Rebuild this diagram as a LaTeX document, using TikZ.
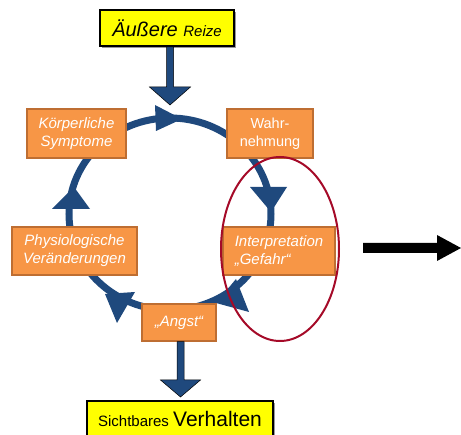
\documentclass[tikz,border=0pt]{standalone}
\usepackage{fontspec}
\setmainfont{Liberation Sans}
\usetikzlibrary{calc,shadows}
\definecolor{cblue}{RGB}{31,73,125}
\definecolor{corange}{RGB}{247,150,70}
\definecolor{cborder}{RGB}{190,110,50}
\definecolor{cred}{RGB}{165,10,40}
\definecolor{cyellow}{RGB}{255,255,0}
\begin{document}
\begin{tikzpicture}[x=1pt,y=-1pt,
  obox/.style={draw=cborder, line width=1.5pt, fill=corange, text=white, align=center, inner sep=0pt,
    font=\fontsize{15}{18}\selectfont\itshape},
  ybox/.style={draw=black, line width=1.6pt, fill=cyellow, inner sep=0pt,
    drop shadow={shadow xshift=1.8pt, shadow yshift=-1.8pt, fill=black!40, opacity=1}},
  blockarr/.style={fill=cblue, draw=black, line width=0.5pt},
  cyc/.style={draw=cblue, line width=7pt},
  cychead/.style={fill=cblue},
  bigarr/.style={fill=black}]
\useasboundingbox (0,0) rectangle (461,435);

% cycle
\coordinate (cc) at (170,214);
\draw[cyc] (cc) ellipse [x radius=101pt, y radius=96pt];
\fill[cychead] (155,105) -- (182,119) -- (156,131) -- cycle;
\fill[cychead] (250,187) -- (287,187) -- (271,212) -- cycle;
\fill[cychead] (236,279) -- (249,312) -- (216,303) -- cycle;
\fill[cychead] (105,294) -- (135,292) -- (117,323) -- cycle;
\fill[cychead] (52,209) -- (90,209) -- (74,187) -- cycle;

% boxes
\node[ybox, minimum width=134pt, minimum height=36pt] (reize) at (167,28)
  {\itshape\fontsize{20}{24}\selectfont Äußere \fontsize{15}{18}\selectfont Reize};
\node[obox, minimum width=99pt, minimum height=49pt] (koerp) at (76.5,133.5) {Körperliche\\Symptome};
\node[obox, minimum width=86pt, minimum height=49pt, font=\fontsize{14.5}{18}\selectfont\upshape] (wahr) at (270,133.5) {Wahr-\\nehmung};
\node[obox, minimum width=125pt, minimum height=48pt] (phys) at (74.5,251) {Physiologische\\Veränderungen};
\node[obox, minimum width=112pt, minimum height=48pt, align=left] (interp) at (279,251) {Interpretation\\„Gefahr“};
\node[obox, minimum width=74pt, minimum height=37pt] (angst) at (179,322.5) {„Angst“};
\node[ybox, minimum width=186pt, minimum height=36pt] (verh) at (180,419)
  {\fontsize{15}{18}\selectfont Sichtbares \fontsize{21}{24}\selectfont Verhalten};

% block arrow from Äußere Reize
\coordinate (rtip) at (170,105);
\path (rtip) ++(3.5,0) coordinate (rR) ++(-7,0) coordinate (rL);
\draw[blockarr] (rtip) -- ++(20.5,-18) -- ++(-17,0) -- (rR |- reize.south) -- (rL |- reize.south)
  -- ($(rL)+(0,-18)$) -- ++(-17,0) -- cycle;

% block arrow to Sichtbares Verhalten
\coordinate (atip) at (180.5,397);
\path (atip) ++(3.5,0) coordinate (aR) ++(-7,0) coordinate (aL);
\draw[blockarr] (atip) -- ++(20,-17) -- ++(-16.5,0) -- (aR |- angst.south) -- (aL |- angst.south)
  -- ($(aL)+(0,-17)$) -- ++(-16.5,0) -- cycle;

% black arrow right
\coordinate (bs) at (363,248);
\coordinate (be) at (461,248);
\fill[bigarr] (bs) ++(0,-5) -- ++(74,0) -- ++(0,-8) -- (be) -- ++(-24,13) -- ++(0,-8) -- ++(-74,0) -- cycle;

% red ellipse
\draw[cred, line width=2pt] (280,249) ellipse [x radius=59pt, y radius=92pt];
\end{tikzpicture}
\end{document}
